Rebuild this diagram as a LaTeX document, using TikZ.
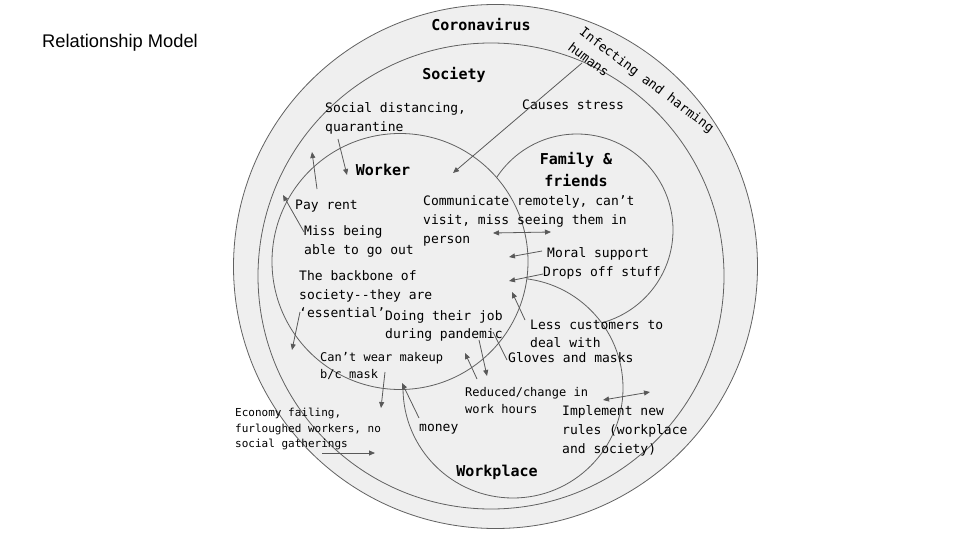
\documentclass[tikz,border=0pt]{standalone}
\usepackage{fontspec}
\newfontfamily\monof{DejaVu Sans Mono}
\newfontfamily\arialf{Liberation Sans}
\usetikzlibrary{arrows.meta}
\definecolor{ringfill}{HTML}{EFEFEF}
\definecolor{ringline}{HTML}{616161}
\definecolor{arr}{HTML}{595959}
\definecolor{txt}{HTML}{000000}
\tikzset{
  ring/.style={circle, draw=ringline, fill=ringfill, line width=0.8pt, inner sep=0pt},
  lbl/.style={font=\monof\fontsize{13}{19}\selectfont, text=txt, align=left, anchor=base west, inner sep=0pt},
  lblsm/.style={lbl, font=\monof\fontsize{12}{17.5}\selectfont},
  lblxs/.style={lbl, font=\monof\fontsize{11}{15.5}\selectfont},
  ttl/.style={font=\monof\bfseries\fontsize{15}{22}\selectfont, text=black, align=center, inner sep=0pt},
  conn/.style={draw=arr, line width=0.8pt, -{Triangle[length=6pt,width=5pt]}},
  conn2/.style={draw=arr, line width=0.8pt, {Triangle[length=6pt,width=5pt]}-{Triangle[length=6pt,width=5pt]}},
  plainconn/.style={draw=arr, line width=0.8pt}
}
\begin{document}
\begin{tikzpicture}[x=1pt,y=-1pt]
\fill[white] (0,0) rectangle (960,540);
\useasboundingbox (0,0) rectangle (960,540);

% rings
\node[ring, minimum size=524pt] (corona) at (495.5,266.5) {};
\node[ring, minimum size=466pt] (society) at (491,276) {};
\node[ring, minimum size=192pt] (family) at (577,230) {};
\node[ring, minimum size=220pt] (workplace) at (513,388) {};
\node[ring, minimum size=256pt] (worker) at (400,261.5) {};

% title
\node[font=\arialf\fontsize{18.3}{22}\selectfont, anchor=west, inner sep=0pt] (title) at (42,43) {Relationship Model};

% ring titles
\node[ttl] (tcorona) at (481,25) {Coronavirus};
\node[ttl] (tsociety) at (454,75) {Society};
\node[ttl] (tworker) at (383,170) {Worker};
\node[ttl] (tfamily) at (576,170) {Family \&\\friends};
\node[ttl] (tworkplace) at (497,472) {Workplace};

% labels (anchor = baseline of the last line)
\node[lbl, rotate=-37] (infect) at (567,49) {Infecting and harming\\humans};
\node[lbl] (social) at (325,131.5) {Social distancing,\\quarantine};
\node[lbl] (stress) at (522,109.5) {Causes stress};
\node[lbl] (rent) at (295,209.5) {Pay rent};
\node[lbl] (miss) at (304,254.5) {Miss being\\able to go out};
\node[lbl, font=\monof\fontsize{13}{18.5}\selectfont] (backbone) at (299,317.5) {The backbone of\\society-{}-they are\\‘essential’};
\node[lbl, font=\monof\fontsize{13}{18}\selectfont] (doing) at (385,338.5) {Doing their job\\during pandemic};
\node[lbl] (comm) at (423,243.5) {Communicate remotely, can’t\\visit, miss seeing them in\\person};
\node[lbl] (moral) at (547,257.5) {Moral support};
\node[lbl] (drops) at (543,276.5) {Drops off stuff};
\node[lbl, font=\monof\fontsize{13}{18}\selectfont] (less) at (530,347.5) {Less customers to\\deal with};
\node[lbl] (gloves) at (508,362.5) {Gloves and masks};
\node[lblsm] (makeup) at (320,378.5) {Can’t wear makeup\\b/c mask};
\node[lblsm] (reduced) at (465,413.5) {Reduced/change in\\work hours};
\node[lbl] (money) at (419,431) {money};
\node[lbl] (implement) at (562,453.5) {Implement new\\rules (workplace\\and society)};
\node[lblxs] (economy) at (235,447.5) {Economy failing,\\furloughed workers, no\\social gatherings};

% connector end points
\coordinate (a1) at (582,63);   \coordinate (b1) at (453,173);
\coordinate (a2) at (338,139);  \coordinate (b2) at (347,175);
\coordinate (a3) at (317,189);  \coordinate (b3) at (312,152);
\coordinate (a4) at (304,232);  \coordinate (b4) at (283,195);
\coordinate (a5) at (300,312);  \coordinate (b5) at (292,350);
\coordinate (a6) at (385,372);  \coordinate (b6) at (381,408);
\coordinate (a7) at (419,418);  \coordinate (b7) at (402,383);
\coordinate (a8) at (322,453);  \coordinate (b8) at (375,453);
\coordinate (a9) at (477,379);  \coordinate (b9) at (465,353);
\coordinate (a10) at (479,340); \coordinate (b10) at (487,376);
\coordinate (a11) at (493,332); \coordinate (b11) at (507,360);
\coordinate (a12) at (525,320); \coordinate (b12) at (512,292);
\coordinate (a13) at (543,274); \coordinate (b13) at (509,281);
\coordinate (a14) at (542,251); \coordinate (b14) at (509,257);
\coordinate (a15) at (493,233); \coordinate (b15) at (551,232);
\coordinate (a16) at (603,400); \coordinate (b16) at (650,392);

% connectors
\draw[conn] (a1) -- (b1);
\draw[conn] (a2) -- (b2);
\draw[conn] (a3) -- (b3);
\draw[conn] (a4) -- (b4);
\draw[conn] (a5) -- (b5);
\draw[conn] (a6) -- (b6);
\draw[conn] (a7) -- (b7);
\draw[conn] (a8) -- (b8);
\draw[conn] (a9) -- (b9);
\draw[conn] (a10) -- (b10);
\draw[plainconn] (a11) -- (b11);
\draw[conn] (a12) -- (b12);
\draw[conn] (a13) -- (b13);
\draw[conn] (a14) -- (b14);
\draw[conn2] (a15) -- (b15);
\draw[conn2] (a16) -- (b16);
\end{tikzpicture}
\end{document}
